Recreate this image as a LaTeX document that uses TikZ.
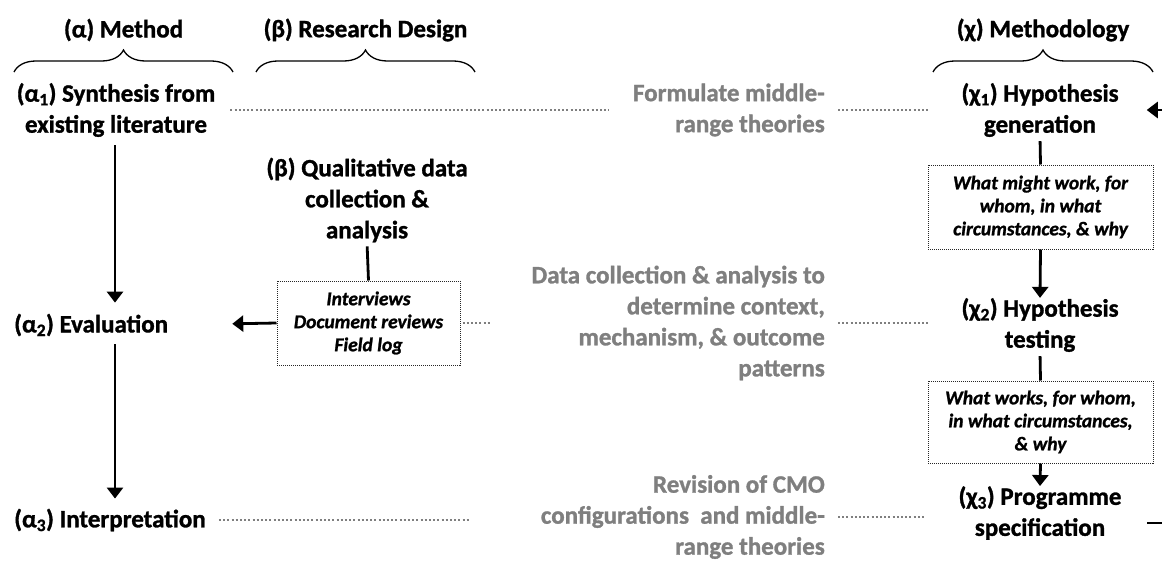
\documentclass[tikz,border=0pt]{standalone}
\usepackage{fontspec}
\setmainfont{Carlito}[BoldFeatures={FakeBold=1.2},BoldItalicFeatures={FakeBold=1.2}]
\usetikzlibrary{arrows.meta,decorations.pathreplacing,calc}
\definecolor{midgray}{RGB}{127,127,127}
\begin{document}
\begin{tikzpicture}[x=1pt,y=-1pt,
  every node/.style={inner sep=0pt},
  main/.style={font=\fontsize{25}{31}\selectfont\bfseries, align=center},
  note/.style={font=\fontsize{25}{31}\selectfont\bfseries, text=midgray, align=right},
  memo/.style={draw=black!85, line width=1pt, dash pattern=on 1pt off 1pt,
    font=\fontsize{19.5}{23}\selectfont\bfseries\itshape, align=center,
    minimum width=225pt, minimum height=84pt},
  flow/.style={line width=2.8pt, -{Triangle[length=11pt,width=16pt]}},
  stem/.style={line width=2.8pt},
  link/.style={draw=midgray, line width=2pt, dash pattern=on 2pt off 2.2pt},
  curly/.style={decorate, decoration={brace, amplitude=22pt}, line width=1.3pt}
]
\useasboundingbox (0,0) rectangle (1162,562);

% column headings and their braces
\node[main] (hA) at (123.5,30) {(α) Method};
\node[main] (hB) at (365.5,30) {(β) Research Design};
\node[main] (hC) at (1043,30) {(χ) Methodology};
\draw[curly] (14,72) -- (233,72);
\draw[curly] (256,72) -- (475,72);
\draw[curly] (933,72) -- (1153,72);

% method column
\node[main] (a1) at (116,110) {(α\textsubscript{1}) Synthesis from\\existing literature};
\node[main, anchor=west] (a2) at (14,325) {(α\textsubscript{2}) Evaluation};
\node[main, anchor=west] (a3) at (14,520) {(α\textsubscript{3}) Interpretation};
\coordinate (ax) at (115,0);

% research design column
\node[main] (b0) at (367,200) {(β) Qualitative data\\collection \&\\analysis};
\node[memo, minimum width=183pt] (bbox) at (368.5,323) {Interviews\\Document reviews\\Field log};

% middle notes
\node[note, anchor=east] (g1) at (825,110) {Formulate middle-\\range theories};
\node[note, anchor=east] (g2) at (825,323) {Data collection \& analysis to\\determine context,\\mechanism, \& outcome\\patterns};
\node[note, anchor=east] (g3) at (825,517) {Revision of CMO\\configurations\ \ and middle-\\range theories};

% methodology column
\node[main] (c1) at (1040,110) {(χ\textsubscript{1}) Hypothesis\\generation};
\node[memo] (m1) at (1040.5,207) {What might work, for\\whom, in what\\circumstances, \& why};
\node[main] (c2) at (1040,325) {(χ\textsubscript{2}) Hypothesis\\testing};
\node[memo, minimum height=82pt] (m2) at (1040.5,422) {What works, for whom,\\in what circumstances,\\\& why};
\node[main] (c3) at (1040,513) {(χ\textsubscript{3}) Programme\\specification};
\coordinate (inR) at (1162,110);
\coordinate (outR) at (1162,523);

% solid connectors
\draw[flow, shorten <=8pt, shorten >=11pt] (a1.south -| ax) -- (a2.north -| ax);
\draw[flow, shorten <=8pt, shorten >=10pt] (a2.south -| ax) -- (a3.north -| ax);
\draw[flow, shorten >=64pt] (bbox.west) -- (a2.east);
\draw[stem, shorten <=4pt] (b0.south) -- (bbox.north);
\draw[stem, shorten <=4pt] (c1.south) -- (m1.north);
\draw[flow] (m1.south) -- (c2.north);
\draw[stem, shorten <=4pt] (c2.south) -- (m2.north);
\draw[flow] (m2.south) -- (c3.north);
\draw[flow, shorten >=28pt] (inR) -- (c1.east);
\draw[stem, shorten >=25pt] (outR) -- (outR -| c3.east);

% dotted links across the columns
\draw[link, shorten <=15pt, shorten >=24pt] (a1.east) -- (g1.west);
\draw[link, shorten <=13pt, shorten >=33pt] (g1.east) -- (c1.west);
\draw[link, shorten <=2pt, shorten >=40pt] (bbox.east) -- (bbox.east -| g2.west);
\draw[link, shorten <=13pt, shorten >=33pt] (g2.east) -- (g2.east -| c2.west);
\draw[link, shorten <=13pt, shorten >=70pt] (a3.east) -- (a3.east -| g3.west);
\draw[link, shorten <=13pt, shorten >=33pt] (g3.east) -- (g3.east -| c3.west);
\end{tikzpicture}
\end{document}
